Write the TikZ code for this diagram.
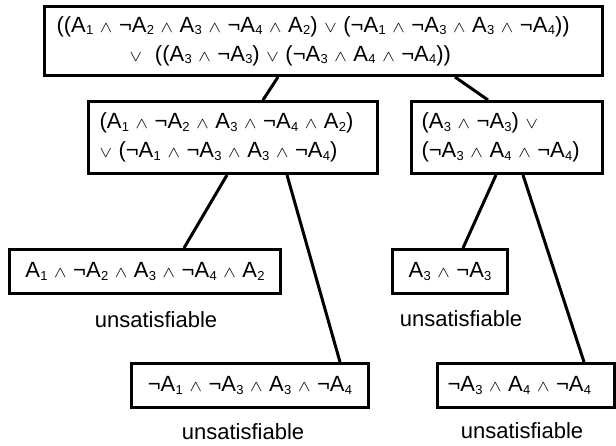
\documentclass[tikz,border=0pt]{standalone}
\usepackage{fontspec}
\setmainfont{Liberation Sans}
\newcommand\At[1]{A\kern0.3pt\raisebox{-2.6pt}{\fontsize{13}{13}\selectfont #1}}
\newcommand\wdg{\scalebox{0.9}[0.75]{$\wedge$}}
\newcommand\ORsym{\scalebox{0.9}[0.75]{$\vee$}}
\newcommand\AND{\hspace{0.3em}\wdg\hspace{0.3em}}
\newcommand\OR{\hspace{0.3em}\ORsym\hspace{0.3em}}
\tikzset{
  box/.style={draw, line width=3pt, anchor=north west, inner ysep=0pt,
    font=\fontsize{22}{29}\selectfont},
  lbox/.style={box, align=left},
  cbox/.style={box, align=center, inner xsep=0pt},
  lab/.style={font=\fontsize{22}{26}\selectfont, inner sep=0pt},
  edge/.style={line width=3pt}
}
\begin{document}
\begin{tikzpicture}[x=1pt,y=-1pt]
\useasboundingbox (0,0) rectangle (616,445);
\node[lbox, inner xsep=12pt, text width=534pt, minimum height=69pt] (top) at (43,5)
  {((\At1\AND¬\At2\AND\At3\AND¬\At4\AND\At2)\OR(¬\At1\AND¬\At3\AND\At3\AND¬\At4))\\
   \hspace*{73pt}\ORsym\hspace{13pt}((\At3\AND¬\At3)\OR(¬\At3\AND\At4\AND¬\At4))};
\node[lbox, inner xsep=11pt, text width=267pt, minimum height=72pt] (midL) at (87,100)
  {(\At1\AND¬\At2\AND\At3\AND¬\At4\AND\At2)\\
   \ORsym\hspace{0.3em}(¬\At1\AND¬\At3\AND\At3\AND¬\At4)};
\node[lbox, inner xsep=10pt, text width=171pt, minimum height=72pt] (midR) at (410,100)
  {(\At3\AND¬\At3)\OR\\
   (¬\At3\AND\At4\AND¬\At4)};
\node[cbox, minimum width=271pt, minimum height=44pt] (bl) at (8,248)
  {\At1\AND¬\At2\AND\At3\AND¬\At4\AND\At2};
\node[cbox, minimum width=237pt, minimum height=44pt] (b2) at (130,362)
  {¬\At1\AND¬\At3\AND\At3\AND¬\At4};
\node[cbox, minimum width=115pt, minimum height=44pt] (a3) at (391,248)
  {\At3\AND¬\At3};
\node[lbox, inner xsep=10pt, text width=157pt, minimum height=44pt] (br) at (436,362)
  {¬\At3\AND\At4\AND¬\At4};
\node[lab] (u1) at (156,320) {unsatisfiable};
\node[lab] (u2) at (461,319) {unsatisfiable};
\node[lab] (u3) at (243,432) {unsatisfiable};
\node[lab] (u4) at (522,431) {unsatisfiable};
\draw[edge] ([xshift=235pt]top.south west) -- ([xshift=176pt]midL.north west);
\draw[edge] ([xshift=412pt]top.south west) -- ([xshift=78pt]midR.north west);
\draw[edge] ([xshift=140pt]midL.south west) -- ([xshift=176pt]bl.north west);
\draw[edge] ([xshift=200pt]midL.south west) -- ([xshift=210pt]b2.north west);
\draw[edge] ([xshift=86pt]midR.south west) -- ([xshift=72pt]a3.north west);
\draw[edge] ([xshift=113pt]midR.south west) -- ([xshift=148pt]br.north west);
\end{tikzpicture}
\end{document}
